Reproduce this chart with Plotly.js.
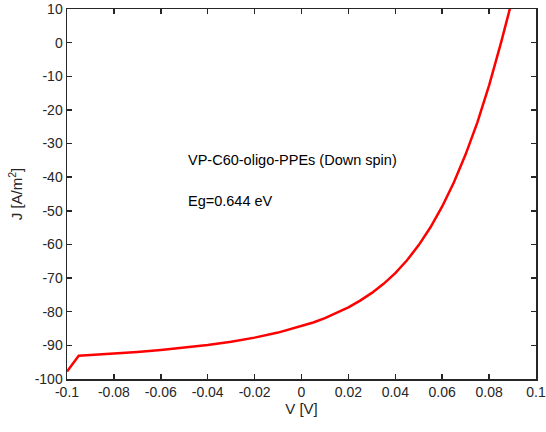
<!DOCTYPE html>
<html>
<head>
<meta charset="utf-8">
<script src="https://cdn.plot.ly/plotly-3.0.1.min.js"></script>
<style>
  html, body { margin: 0; padding: 0; background: #fff; }
  #chart { width: 546px; height: 432px; }
</style>
</head>
<body>
<div id="chart"></div>
<script>
// J-V characteristic, VP-C60-oligo-PPEs (down spin)
const voltage = [-0.1, -0.095, -0.09, -0.08, -0.07, -0.06, -0.05, -0.04, -0.03, -0.02, -0.01,
                 0, 0.005, 0.01, 0.015, 0.02, 0.025, 0.03, 0.035, 0.04, 0.045, 0.05, 0.055,
                 0.06, 0.065, 0.07, 0.075, 0.08, 0.085, 0.09];
const current = [-97.8, -93.1, -92.9, -92.5, -92.0, -91.4, -90.7, -89.9, -88.9, -87.7, -86.2,
                 -84.3, -83.2, -81.9, -80.4, -78.7, -76.7, -74.4, -71.7, -68.5, -64.7, -60.2, -54.9,
                 -48.7, -41.5, -33.2, -23.7, -12.7, -0.2, 13.1];
const xTicks = [-0.1, -0.08, -0.06, -0.04, -0.02, 0, 0.02, 0.04, 0.06, 0.08, 0.1];
const xTickText = ['-0.1', '-0.08', '-0.06', '-0.04', '-0.02', '0', '0.02', '0.04', '0.06', '0.08', '0.1'];
const yTicks = [-100, -90, -80, -70, -60, -50, -40, -30, -20, -10, 0, 10];
const yTickText = yTicks.map(String);

const axisColor = '#262626';
const family = 'Liberation Sans, Arial, sans-serif';
const tickFont = { family: family, size: 14, color: axisColor };
const titleFont = { family: family, size: 15, color: axisColor };
const noteFont = { family: family, size: 14.5, color: '#000000' };

const trace = {
  x: voltage,
  y: current,
  type: 'scatter',
  mode: 'lines',
  line: { color: '#ff0000', width: 2.5 },
  hoverinfo: 'skip'
};

const axisCommon = {
  showgrid: false,
  zeroline: false,
  showline: true,
  linecolor: axisColor,
  linewidth: 1.5,
  mirror: 'ticks',
  ticks: 'inside',
  ticklen: 5,
  tickwidth: 1.5,
  tickcolor: axisColor,
  tickfont: tickFont
};

const layout = {
  width: 546,
  height: 432,
  margin: { l: 67, r: 10, t: 9, b: 53 },
  paper_bgcolor: '#ffffff',
  plot_bgcolor: '#ffffff',
  showlegend: false,
  font: tickFont,
  xaxis: Object.assign({}, axisCommon, {
    range: [-0.1, 0.1],
    tickmode: 'array',
    tickvals: xTicks,
    ticktext: xTickText,
    title: { text: 'V [V]', font: titleFont, standoff: 4 }
  }),
  yaxis: Object.assign({}, axisCommon, {
    range: [-100, 10],
    tickmode: 'array',
    tickvals: yTicks,
    ticktext: yTickText,
    title: { text: 'J [A/m<sup>2</sup>]', font: titleFont, standoff: 8 }
  }),
  annotations: [
    {
      text: 'VP-C60-oligo-PPEs (Down spin)',
      xref: 'paper', yref: 'paper',
      x: (186 - 67) / 469, y: 1 - (160 - 9) / 370,
      xanchor: 'left', yanchor: 'middle',
      showarrow: false,
      font: noteFont
    },
    {
      text: 'Eg=0.644 eV',
      xref: 'paper', yref: 'paper',
      x: (186 - 67) / 469, y: 1 - (201 - 9) / 370,
      xanchor: 'left', yanchor: 'middle',
      showarrow: false,
      font: noteFont
    }
  ]
};

Plotly.newPlot('chart', [trace], layout, { displayModeBar: false, staticPlot: true });
</script>
</body>
</html>
